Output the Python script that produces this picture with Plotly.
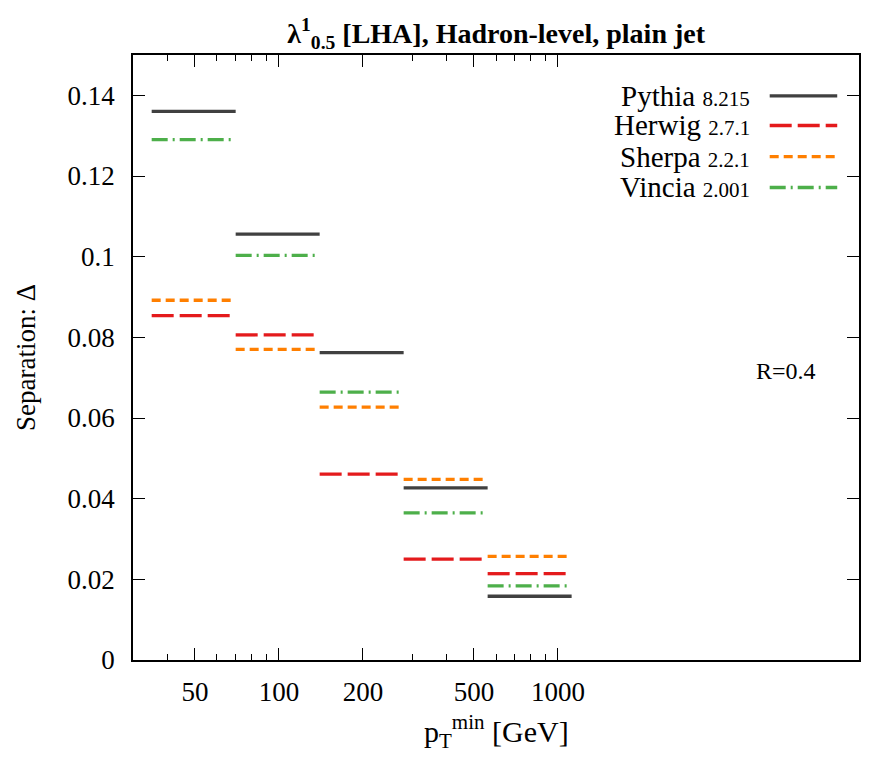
import plotly.graph_objects as go

# Data
bin_edges = [35, 70, 140, 280, 560, 1120]
series_names = ["Pythia", "Herwig", "Sherpa", "Vincia"]
series_versions = ["8.215", "2.7.1", "2.2.1", "2.001"]
pythia = [0.1360, 0.1056, 0.0762, 0.0427, 0.0158]
herwig = [0.0854, 0.0806, 0.0461, 0.0250, 0.0214]
sherpa = [0.0892, 0.0770, 0.0627, 0.0448, 0.0257]
vincia = [0.1290, 0.1003, 0.0664, 0.0365, 0.0184]
series_values = [pythia, herwig, sherpa, vincia]

x_major_ticks = [50, 100, 200, 500, 1000]
x_minor_ticks = [40, 60, 70, 80, 90, 300, 400, 600, 700, 800, 900]
y_ticks = [0, 0.02, 0.04, 0.06, 0.08, 0.1, 0.12, 0.14]
y_tick_labels = ["0", "0.02", "0.04", "0.06", "0.08", "0.1", "0.12", "0.14"]

colors = ["#404040", "#e41a1c", "#ff7f00", "#4daf4a"]
dashes = ["solid", "22px,6px", "9px,5px", "16px,5px,2px,5px"]
widths = [3.3, 3.3, 3.3, 3.3]

FONT = "Liberation Serif"

fig = go.Figure()
for name, vals, col, dash, w in zip(series_names, series_values, colors, dashes, widths):
    xs, ys = [], []
    for i, v in enumerate(vals):
        xs += [bin_edges[i], bin_edges[i + 1], None]
        ys += [v, v, None]
    fig.add_trace(go.Scatter(x=xs, y=ys, mode="lines", name=name,
                             line=dict(color=col, width=w, dash=dash),
                             showlegend=False, hoverinfo="skip"))

# manual legend (text left, line sample right)
leg_y = [0.9325, 0.8835, 0.832, 0.781]
for name, ver, col, dash, w, yy in zip(series_names, series_versions, colors, dashes, widths, leg_y):
    fig.add_annotation(xref="paper", yref="paper", x=0.853, y=yy, xanchor="right", yanchor="middle",
                       text=f"{name} <span style='font-size:21px'>{ver}</span>",
                       showarrow=False, font=dict(family=FONT, size=29, color="black"))
    fig.add_shape(type="line", xref="paper", yref="paper", x0=0.877, x1=0.97, y0=yy, y1=yy,
                  line=dict(color=col, width=w, dash=dash))

fig.add_annotation(xref="paper", yref="paper", x=0.9, y=0.4775, xanchor="center", yanchor="middle",
                   text="R=0.4", showarrow=False, font=dict(family=FONT, size=24, color="black"))

# x axis title
fig.add_annotation(xref="paper", yref="paper", x=0.5, y=-0.119, xanchor="center", yanchor="middle",
                   text="p<sub>T</sub><sup>min</sup> [GeV]", showarrow=False,
                   font=dict(family=FONT, size=30, color="black"))

fig.update_layout(
    width=886, height=767,
    margin=dict(l=133, r=27, t=55, b=107),
    plot_bgcolor="white", paper_bgcolor="white",
    font=dict(family=FONT, size=26, color="black"),
    title=dict(text="<b>λ<sup>1</sup><sub>0.5</sub> [LHA], Hadron-level, plain jet</b>",
               x=0.56, xanchor="center", y=0.957, yanchor="middle",
               font=dict(family=FONT, size=28, color="black")),
)

fig.update_xaxes(
    type="log", range=[1.4771, 4.0792],
    tickmode="array", tickvals=x_major_ticks, ticktext=[str(t) for t in x_major_ticks],
    ticks="inside", ticklen=12, tickwidth=1, tickcolor="black",
    minor=dict(tickmode="array", tickvals=x_minor_ticks, ticks="inside", ticklen=6,
               tickwidth=1, tickcolor="black", showgrid=False),
    showline=True, linecolor="black", linewidth=1.5, mirror="ticks",
    showgrid=False, zeroline=False, ticklabelstandoff=7,
    tickfont=dict(family=FONT, size=27),
)
fig.update_yaxes(
    range=[0, 0.15],
    tickmode="array", tickvals=y_ticks, ticktext=y_tick_labels,
    ticks="inside", ticklen=12, tickwidth=1, tickcolor="black",
    showline=True, linecolor="black", linewidth=1.5, mirror="ticks",
    showgrid=False, zeroline=False, ticklabelstandoff=11,
    tickfont=dict(family=FONT, size=27),
    title=dict(text="Separation: Δ", standoff=24, font=dict(family=FONT, size=27)),
)

fig.write_html("out.html")
